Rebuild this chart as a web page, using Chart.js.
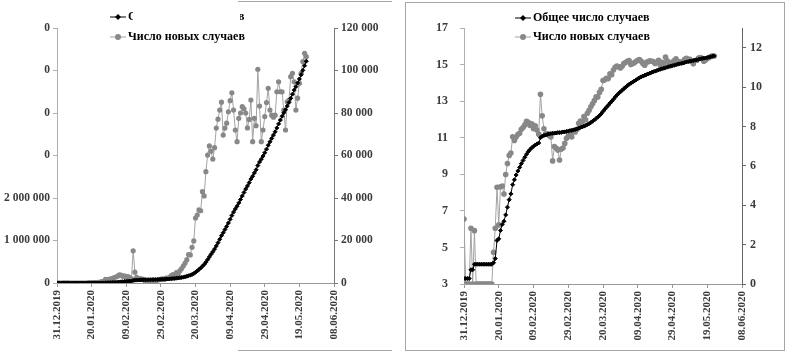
<!DOCTYPE html>
<html>
<head>
<meta charset="utf-8">
<script src="https://cdn.jsdelivr.net/npm/chart.js@4/dist/chart.umd.min.js"></script>
<style>
  html, body { margin: 0; padding: 0; background: #fff; }
  body { width: 788px; height: 352px; position: relative; overflow: hidden; }
  canvas { position: absolute; top: 0; }
  #world-chart { left: 0; }
  #log-chart { left: 405px; }
  .box { position: absolute; left: 405px; top: 2px; width: 378px; height: 347px; border: 1px solid #a6a6a6; }
  .mask { position: absolute; background: #fff; }
  .edge { position: absolute; height: 1px; background: #a6a6a6; }
</style>
</head>
<body>
<div class="box"></div>
<canvas id="world-chart" width="392" height="352"></canvas>
<canvas id="log-chart" width="380" height="352"></canvas>
<div class="mask" style="left:0;top:0;width:44px;height:182px"></div>
<div class="mask" style="left:133px;top:0;width:107px;height:33px"></div>
<div class="edge" style="left:238px;top:1px;width:154px"></div>
<div class="edge" style="left:238px;top:350px;width:154px"></div>
<script>
// day 0 = 31.12.2019, one value per day up to 23.05.2020
const tickDates = ['31.12.2019', '20.01.2020', '09.02.2020', '29.02.2020', '20.03.2020', '09.04.2020', '29.04.2020', '19.05.2020', '08.06.2020'];
const seriesNames = ['Общее число случаев', 'Число новых случаев'];

const totalCases = [27,27,27,27,44,44,59,59,59,59,59,59,59,59,59,59,59,64,81,217,237,377,522,619,878,1335,2023,2792,4563,6022,7759,9740,11839,14428,17253,20488,24372,28066,31209,34594,37246,40316,42808,44830,59981,65074,67718,69738,71789,73680,75431,75951,77021,78011,78911,79456,80401,81401,82661,84301,86101,88001,89751,92051,94301,96901,100401,104301,108001,112901,117101,122901,129701,137801,147201,158201,171601,184801,201601,221401,252001,284001,318401,352401,395401,436401,488801,549001,613501,675501,733801,797501,870401,947501,1028901,1114001,1183601,1256501,1331701,1412301,1498101,1587601,1669001,1741001,1807501,1885001,1965001,2048001,2130001,2210001,2283001,2360001,2446101,2512601,2590101,2664101,2764701,2848001,2914501,2986501,3064801,3149701,3241301,3322701,3401701,3479701,3558701,3648701,3743401,3833401,3923401,4004801,4076801,4162101,4248201,4345301,4444001,4538701,4620101,4707101,4801101,4899801,5004001,5112101,5218601];

const newCases = [27,0,0,0,17,0,15,0,0,0,0,0,0,0,0,0,0,5,17,136,20,140,145,97,259,457,688,769,1771,1459,1737,1981,2099,2589,2825,3235,3884,3694,3143,3385,2652,3070,2492,2022,15151,5093,2644,2020,2051,1891,1751,520,1070,990,900,545,945,1000,1260,1640,1800,1900,1750,2300,2250,2600,3500,3900,3700,4900,4200,5800,6800,8100,9400,11000,13400,13200,16800,19800,30600,32000,34400,34000,43000,41000,52400,60200,64500,62000,58300,63700,72900,77100,81400,85100,69600,72900,75200,80600,85800,89500,81400,72000,66500,77500,80000,83000,82000,80000,73000,77000,86100,66500,77500,74000,100600,83300,66500,72000,78300,84900,91600,81400,79000,78000,79000,90000,94700,90000,90000,81400,72000,85300,86100,97100,98700,94700,81400,87000,94000,98700,104200,108100,106500];

// natural log values, right-hand picture
const lnTotal = [3.30,3.30,3.30,3.30,3.78,3.78,4.08,4.08,4.08,4.08,4.08,4.08,4.08,4.08,4.08,4.08,4.08,4.16,4.39,5.38,5.47,5.93,6.26,6.43,6.78,7.20,7.61,7.93,8.43,8.70,8.96,9.18,9.38,9.58,9.76,9.93,10.10,10.24,10.35,10.45,10.53,10.60,10.66,10.71,11.00,11.08,11.12,11.15,11.18,11.21,11.23,11.24,11.25,11.26,11.28,11.28,11.29,11.31,11.32,11.34,11.36,11.39,11.40,11.43,11.45,11.48,11.52,11.56,11.59,11.63,11.67,11.72,11.77,11.83,11.90,11.97,12.05,12.13,12.21,12.31,12.44,12.56,12.67,12.77,12.89,12.99,13.10,13.22,13.33,13.42,13.51,13.59,13.68,13.76,13.84,13.92,13.98,14.04,14.10,14.16,14.22,14.28,14.33,14.37,14.41,14.45,14.49,14.53,14.57,14.61,14.64,14.67,14.71,14.74,14.77,14.80,14.83,14.86,14.89,14.91,14.94,14.96,14.99,15.02,15.04,15.06,15.08,15.11,15.14,15.16,15.18,15.20,15.22,15.24,15.26,15.28,15.31,15.33,15.35,15.36,15.38,15.40,15.43,15.45,15.47];

const lnNew = [3.30,0,0,0,2.83,0,2.71,0,0,0,0,0,0,0,0,0,0,1.61,2.83,4.91,3.00,4.94,4.98,4.57,5.56,6.12,6.53,6.65,7.48,7.29,7.46,7.59,7.65,7.86,7.95,8.08,8.26,8.21,8.05,8.13,7.88,8.03,7.82,7.61,9.63,8.54,7.88,7.61,7.63,7.54,7.47,6.25,6.98,6.90,6.80,6.30,6.85,6.91,7.14,7.40,7.50,7.55,7.47,7.74,7.72,7.86,8.16,8.27,8.22,8.50,8.34,8.67,8.82,9.00,9.15,9.31,9.50,9.49,9.73,9.89,10.33,10.37,10.45,10.43,10.67,10.62,10.87,11.01,11.07,11.03,10.97,11.06,11.20,11.25,11.31,11.35,11.15,11.20,11.23,11.30,11.36,11.40,11.31,11.18,11.11,11.26,11.29,11.33,11.31,11.29,11.20,11.25,11.36,11.11,11.26,11.21,11.52,11.33,11.11,11.18,11.27,11.35,11.43,11.31,11.28,11.26,11.28,11.41,11.46,11.41,11.41,11.31,11.18,11.35,11.36,11.48,11.50,11.46,11.31,11.37,11.45,11.50,11.55,11.59,11.58];

Chart.defaults.font.family = '"Liberation Serif", "Times New Roman", serif';
Chart.defaults.font.weight = 'bold';
Chart.defaults.color = '#3c3c3c';

function toPoints(values) {
    return values.map((v, i) => ({ x: i, y: v }));
}

function spaced(v) {
    return String(v).replace(/\B(?=(\d{3})+(?!\d))/g, ' ');
}

// legend drawn as "line + marker + text", the way the spreadsheet did it
const lineLegend = {
    id: 'lineLegend',
    afterDraw(chart, args, opts) {
        const ctx = chart.ctx;
        ctx.save();
        ctx.font = 'bold 12px "Liberation Serif", serif';
        ctx.textBaseline = 'middle';
        chart.data.datasets.forEach((ds, i) => {
            const y = opts.y + i * opts.gap;
            const mid = opts.x + opts.len / 2;
            ctx.strokeStyle = ds.borderColor;
            ctx.lineWidth = 1;
            ctx.beginPath();
            ctx.moveTo(opts.x, y);
            ctx.lineTo(opts.x + opts.len, y);
            ctx.stroke();
            ctx.fillStyle = ds.pointBackgroundColor;
            ctx.beginPath();
            if (ds.pointStyle === 'rectRot') {
                ctx.moveTo(mid, y - 3); ctx.lineTo(mid + 3, y); ctx.lineTo(mid, y + 3); ctx.lineTo(mid - 3, y);
                ctx.closePath();
            } else {
                ctx.arc(mid, y, 3, 0, Math.PI * 2);
            }
            ctx.fill();
            ctx.fillStyle = '#000';
            ctx.fillText(ds.label, opts.x + opts.len + 2, y);
        });
        ctx.restore();
    }
};

function makeDatasets(blackValues, grayValues, grayRadius) {
    return [{
        label: seriesNames[0],
        data: toPoints(blackValues),
        yAxisID: 'y',
        borderColor: '#000',
        borderWidth: 1,
        pointStyle: 'rectRot',
        pointRadius: 2,
        pointBackgroundColor: '#000',
        pointBorderColor: '#000',
        pointBorderWidth: 1
    }, {
        label: seriesNames[1],
        data: toPoints(grayValues),
        yAxisID: 'y2',
        borderColor: '#a3a3a3',
        borderWidth: 1,
        pointStyle: 'circle',
        pointRadius: grayRadius,
        pointBackgroundColor: '#888',
        pointBorderColor: '#888',
        pointBorderWidth: 0
    }];
}

function xScale(height) {
    return {
        type: 'linear',
        min: 0,
        max: 160,
        border: { color: '#999' },
        grid: { drawOnChartArea: false, tickLength: 4, color: '#999' },
        ticks: {
            stepSize: 20,
            autoSkip: false,
            maxRotation: 90,
            minRotation: 90,
            padding: 3,
            font: { size: 11 },
            callback: (v) => tickDates[v / 20]
        },
        afterFit: (s) => { s.height = height; }
    };
}

function yScale(cfg) {
    return {
        type: 'linear',
        position: cfg.position,
        min: cfg.min,
        max: cfg.max,
        border: { color: cfg.line },
        grid: { drawOnChartArea: false, tickLength: 4, color: cfg.line },
        ticks: {
            stepSize: cfg.step,
            includeBounds: false,
            padding: cfg.pad,
            font: { size: cfg.size },
            callback: cfg.fmt
        },
        afterFit: (s) => { s.width = cfg.width; }
    };
}

new Chart(document.getElementById('world-chart'), {
    type: 'line',
    data: { datasets: makeDatasets(totalCases, newCases, 2.6) },
    options: {
        responsive: false,
        animation: false,
        layout: { padding: { top: 28, left: 0, right: 0, bottom: 0 } },
        plugins: {
            legend: { display: false },
            tooltip: { enabled: false },
            lineLegend: { x: 110, y: 17, gap: 20, len: 16 }
        },
        scales: {
            x: xScale(69),
            y: yScale({ position: 'left', min: 0, max: 6000000, step: 1000000, width: 57, pad: 3, size: 11.5, line: '#b0b0b0', fmt: spaced }),
            y2: yScale({ position: 'right', min: 0, max: 120000, step: 20000, width: 58, pad: 3, size: 11.5, line: '#777', fmt: spaced })
        }
    },
    plugins: [lineLegend]
});

new Chart(document.getElementById('log-chart'), {
    type: 'line',
    data: { datasets: makeDatasets(lnTotal, lnNew, 2.8) },
    options: {
        responsive: false,
        animation: false,
        layout: { padding: { top: 28, left: 0, right: 0, bottom: 0 } },
        plugins: {
            legend: { display: false },
            tooltip: { enabled: false },
            lineLegend: { x: 110, y: 18, gap: 19, len: 16 }
        },
        scales: {
            x: xScale(68),
            y: yScale({ position: 'left', min: 3, max: 17, step: 2, width: 59, pad: 12, size: 12, line: '#b0b0b0', fmt: (v) => v }),
            y2: yScale({ position: 'right', min: 0, max: 13, step: 2, width: 43, pad: 4, size: 12, line: '#666', fmt: (v) => v })
        }
    },
    plugins: [lineLegend]
});
</script>
</body>
</html>
